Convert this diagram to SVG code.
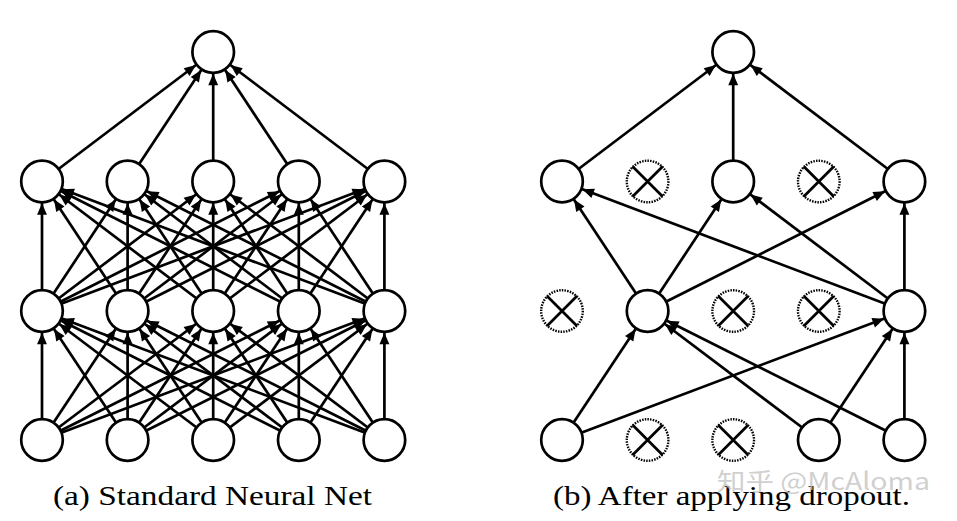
<svg xmlns="http://www.w3.org/2000/svg" width="957" height="521" viewBox="0 0 957 521">
<style>
.e{stroke:#000;stroke-width:2.7;fill:none;marker-end:url(#ah)}
.n{fill:#fff;stroke:#000;stroke-width:2.7}
.d{fill:#fff;stroke:#000;stroke-width:2.4;stroke-dasharray:1.5 1.2}
.x{stroke:#000;stroke-width:2.7}
.cap{font-family:"Liberation Serif","DejaVu Serif",serif;font-size:28px;fill:#000}
.wm{font-family:"Noto Sans CJK SC","Noto Sans",sans-serif;font-size:24px;fill:#c4c4c4;fill-opacity:0.8}
</style>
<defs>
<marker id="ah" markerUnits="userSpaceOnUse" markerWidth="40" markerHeight="14" viewBox="-38 -7 42 14" refX="0" refY="0" orient="auto" overflow="visible">
<path d="M-22.8,0 L-35,-5.2 L-35,5.2 Z" fill="#000"/>
</marker>
</defs>
<g id="connectors">
<line class="e" x1="42" y1="181.5" x2="213.2" y2="52"/>
<line class="e" x1="127.6" y1="181.5" x2="213.2" y2="52"/>
<line class="e" x1="213.2" y1="181.5" x2="213.2" y2="52"/>
<line class="e" x1="298.8" y1="181.5" x2="213.2" y2="52"/>
<line class="e" x1="384.4" y1="181.5" x2="213.2" y2="52"/>
<line class="e" x1="42" y1="311" x2="42" y2="181.5"/>
<line class="e" x1="42" y1="311" x2="127.6" y2="181.5"/>
<line class="e" x1="42" y1="311" x2="213.2" y2="181.5"/>
<line class="e" x1="42" y1="311" x2="298.8" y2="181.5"/>
<line class="e" x1="42" y1="311" x2="384.4" y2="181.5"/>
<line class="e" x1="127.6" y1="311" x2="42" y2="181.5"/>
<line class="e" x1="127.6" y1="311" x2="127.6" y2="181.5"/>
<line class="e" x1="127.6" y1="311" x2="213.2" y2="181.5"/>
<line class="e" x1="127.6" y1="311" x2="298.8" y2="181.5"/>
<line class="e" x1="127.6" y1="311" x2="384.4" y2="181.5"/>
<line class="e" x1="213.2" y1="311" x2="42" y2="181.5"/>
<line class="e" x1="213.2" y1="311" x2="127.6" y2="181.5"/>
<line class="e" x1="213.2" y1="311" x2="213.2" y2="181.5"/>
<line class="e" x1="213.2" y1="311" x2="298.8" y2="181.5"/>
<line class="e" x1="213.2" y1="311" x2="384.4" y2="181.5"/>
<line class="e" x1="298.8" y1="311" x2="42" y2="181.5"/>
<line class="e" x1="298.8" y1="311" x2="127.6" y2="181.5"/>
<line class="e" x1="298.8" y1="311" x2="213.2" y2="181.5"/>
<line class="e" x1="298.8" y1="311" x2="298.8" y2="181.5"/>
<line class="e" x1="298.8" y1="311" x2="384.4" y2="181.5"/>
<line class="e" x1="384.4" y1="311" x2="42" y2="181.5"/>
<line class="e" x1="384.4" y1="311" x2="127.6" y2="181.5"/>
<line class="e" x1="384.4" y1="311" x2="213.2" y2="181.5"/>
<line class="e" x1="384.4" y1="311" x2="298.8" y2="181.5"/>
<line class="e" x1="384.4" y1="311" x2="384.4" y2="181.5"/>
<line class="e" x1="42" y1="440" x2="42" y2="311"/>
<line class="e" x1="42" y1="440" x2="127.6" y2="311"/>
<line class="e" x1="42" y1="440" x2="213.2" y2="311"/>
<line class="e" x1="42" y1="440" x2="298.8" y2="311"/>
<line class="e" x1="42" y1="440" x2="384.4" y2="311"/>
<line class="e" x1="127.6" y1="440" x2="42" y2="311"/>
<line class="e" x1="127.6" y1="440" x2="127.6" y2="311"/>
<line class="e" x1="127.6" y1="440" x2="213.2" y2="311"/>
<line class="e" x1="127.6" y1="440" x2="298.8" y2="311"/>
<line class="e" x1="127.6" y1="440" x2="384.4" y2="311"/>
<line class="e" x1="213.2" y1="440" x2="42" y2="311"/>
<line class="e" x1="213.2" y1="440" x2="127.6" y2="311"/>
<line class="e" x1="213.2" y1="440" x2="213.2" y2="311"/>
<line class="e" x1="213.2" y1="440" x2="298.8" y2="311"/>
<line class="e" x1="213.2" y1="440" x2="384.4" y2="311"/>
<line class="e" x1="298.8" y1="440" x2="42" y2="311"/>
<line class="e" x1="298.8" y1="440" x2="127.6" y2="311"/>
<line class="e" x1="298.8" y1="440" x2="213.2" y2="311"/>
<line class="e" x1="298.8" y1="440" x2="298.8" y2="311"/>
<line class="e" x1="298.8" y1="440" x2="384.4" y2="311"/>
<line class="e" x1="384.4" y1="440" x2="42" y2="311"/>
<line class="e" x1="384.4" y1="440" x2="127.6" y2="311"/>
<line class="e" x1="384.4" y1="440" x2="213.2" y2="311"/>
<line class="e" x1="384.4" y1="440" x2="298.8" y2="311"/>
<line class="e" x1="384.4" y1="440" x2="384.4" y2="311"/>
<line class="e" x1="562" y1="181.5" x2="733.2" y2="52"/>
<line class="e" x1="733.2" y1="181.5" x2="733.2" y2="52"/>
<line class="e" x1="904.4" y1="181.5" x2="733.2" y2="52"/>
<line class="e" x1="647.6" y1="311" x2="562" y2="181.5"/>
<line class="e" x1="647.6" y1="311" x2="733.2" y2="181.5"/>
<line class="e" x1="647.6" y1="311" x2="904.4" y2="181.5"/>
<line class="e" x1="904.4" y1="311" x2="562" y2="181.5"/>
<line class="e" x1="904.4" y1="311" x2="733.2" y2="181.5"/>
<line class="e" x1="904.4" y1="311" x2="904.4" y2="181.5"/>
<line class="e" x1="562" y1="440" x2="647.6" y2="311"/>
<line class="e" x1="562" y1="440" x2="904.4" y2="311"/>
<line class="e" x1="818.8" y1="440" x2="647.6" y2="311"/>
<line class="e" x1="818.8" y1="440" x2="904.4" y2="311"/>
<line class="e" x1="904.4" y1="440" x2="647.6" y2="311"/>
<line class="e" x1="904.4" y1="440" x2="904.4" y2="311"/>
</g>
<g id="a-out"><circle class="n" cx="213.2" cy="52" r="20.8"/></g>
<g id="a-h2-1"><circle class="n" cx="42" cy="181.5" r="20.8"/></g>
<g id="a-h2-2"><circle class="n" cx="127.6" cy="181.5" r="20.8"/></g>
<g id="a-h2-3"><circle class="n" cx="213.2" cy="181.5" r="20.8"/></g>
<g id="a-h2-4"><circle class="n" cx="298.8" cy="181.5" r="20.8"/></g>
<g id="a-h2-5"><circle class="n" cx="384.4" cy="181.5" r="20.8"/></g>
<g id="a-h1-1"><circle class="n" cx="42" cy="311" r="20.8"/></g>
<g id="a-h1-2"><circle class="n" cx="127.6" cy="311" r="20.8"/></g>
<g id="a-h1-3"><circle class="n" cx="213.2" cy="311" r="20.8"/></g>
<g id="a-h1-4"><circle class="n" cx="298.8" cy="311" r="20.8"/></g>
<g id="a-h1-5"><circle class="n" cx="384.4" cy="311" r="20.8"/></g>
<g id="a-in-1"><circle class="n" cx="42" cy="440" r="20.8"/></g>
<g id="a-in-2"><circle class="n" cx="127.6" cy="440" r="20.8"/></g>
<g id="a-in-3"><circle class="n" cx="213.2" cy="440" r="20.8"/></g>
<g id="a-in-4"><circle class="n" cx="298.8" cy="440" r="20.8"/></g>
<g id="a-in-5"><circle class="n" cx="384.4" cy="440" r="20.8"/></g>
<g id="b-out"><circle class="n" cx="733.2" cy="52" r="20.8"/></g>
<g id="b-h2-1"><circle class="n" cx="562" cy="181.5" r="20.8"/></g>
<g id="b-h2-2"><circle class="d" cx="647.6" cy="181.5" r="20.8"/><path class="x" d="M632.6,166.5 L662.6,196.5 M662.6,166.5 L632.6,196.5"/></g>
<g id="b-h2-3"><circle class="n" cx="733.2" cy="181.5" r="20.8"/></g>
<g id="b-h2-4"><circle class="d" cx="818.8" cy="181.5" r="20.8"/><path class="x" d="M803.8,166.5 L833.8,196.5 M833.8,166.5 L803.8,196.5"/></g>
<g id="b-h2-5"><circle class="n" cx="904.4" cy="181.5" r="20.8"/></g>
<g id="b-h1-1"><circle class="d" cx="562" cy="311" r="20.8"/><path class="x" d="M547,296 L577,326 M577,296 L547,326"/></g>
<g id="b-h1-2"><circle class="n" cx="647.6" cy="311" r="20.8"/></g>
<g id="b-h1-3"><circle class="d" cx="733.2" cy="311" r="20.8"/><path class="x" d="M718.2,296 L748.2,326 M748.2,296 L718.2,326"/></g>
<g id="b-h1-4"><circle class="d" cx="818.8" cy="311" r="20.8"/><path class="x" d="M803.8,296 L833.8,326 M833.8,296 L803.8,326"/></g>
<g id="b-h1-5"><circle class="n" cx="904.4" cy="311" r="20.8"/></g>
<g id="b-in-1"><circle class="n" cx="562" cy="440" r="20.8"/></g>
<g id="b-in-2"><circle class="d" cx="647.6" cy="440" r="20.8"/><path class="x" d="M632.6,425 L662.6,455 M662.6,425 L632.6,455"/></g>
<g id="b-in-3"><circle class="d" cx="733.2" cy="440" r="20.8"/><path class="x" d="M718.2,425 L748.2,455 M748.2,425 L718.2,455"/></g>
<g id="b-in-4"><circle class="n" cx="818.8" cy="440" r="20.8"/></g>
<g id="b-in-5"><circle class="n" cx="904.4" cy="440" r="20.8"/></g>
<text class="cap" x="53" y="505" textLength="319" lengthAdjust="spacingAndGlyphs">(a) Standard Neural Net</text>
<text class="cap" x="553" y="505" textLength="357" lengthAdjust="spacingAndGlyphs">(b) After applying dropout.</text>
<text class="wm" x="717" y="490" textLength="213" lengthAdjust="spacingAndGlyphs">知乎 @McAloma</text>
</svg>
